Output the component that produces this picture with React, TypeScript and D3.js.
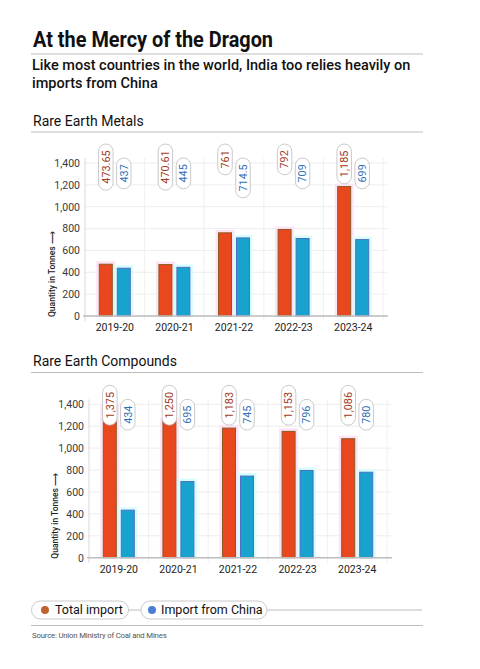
import React from "react";
import * as d3 from "d3";

const categories = ["2019-20", "2020-21", "2021-22", "2022-23", "2023-24"];
const metalsTotal = [473.65, 470.61, 761, 792, 1185];
const metalsChina = [437, 445, 714.5, 709, 699];
const compoundsTotal = [1375, 1250, 1183, 1153, 1086];
const compoundsChina = [434, 695, 745, 796, 780];
const yTicks = [0, 200, 400, 600, 800, 1000, 1200, 1400];
const seriesNames = ["Total import", "Import from China"];

const RED = "#e9481f";
const RED_STROKE = "#8c5a22";
const BLUE = "#17a3cd";
const BLUE_STROKE = "#4f6ec4";
const RED_TEXT = "#a23a1c";
const BLUE_TEXT = "#2f70b8";
const FONT = "Roboto, 'Noto Sans', sans-serif";
const fmt = d3.format(",");

function textLen(s: string, fs: number) {
  let w = 0;
  for (const c of s) w += c === "," || c === "." ? fs * 0.26 : fs * 0.58;
  return w;
}

type ChartProps = {
  total: number[];
  china: number[];
  x0: number;
  x1: number;
  y0: number;
  y1: number;
  axisTitleX: number;
};

function Chart({ total, china, x0, x1, y0, y1, axisTitleX }: ChartProps) {
  const x = d3.scaleBand<string>().domain(categories).range([x0, x1]);
  const y = d3.scaleLinear().domain([0, 1400]).range([y0, y1]);
  const bw = 13;
  const gap = 5;
  const pillW = 14.5;
  const fs = 10.8;
  const redPillTop = y1 - 19;
  const bluePillTop = y1 - 5;
  const bars: React.ReactNode[] = [];
  const pills: React.ReactNode[] = [];
  categories.forEach((c, i) => {
    const cx = (x(c) as number) + x.bandwidth() / 2;
    const series = [
      { v: total[i], bx: cx - gap / 2 - bw, fill: RED, stroke: RED_STROKE, halo: "#fde3f6", txt: RED_TEXT, top: redPillTop },
      { v: china[i], bx: cx + gap / 2, fill: BLUE, stroke: BLUE_STROKE, halo: "#d9fdfd", txt: BLUE_TEXT, top: bluePillTop },
    ];
    series.forEach((s, j) => {
      bars.push(
        <g key={`b${i}-${j}`}>
          <rect x={s.bx - 3} y={y(s.v) - 3} width={bw + 6} height={y0 - y(s.v) + 3} fill={s.halo} />
          <rect x={s.bx} y={y(s.v)} width={bw} height={y0 - y(s.v)} fill={s.fill} stroke={s.stroke} strokeWidth={1} />
        </g>
      );
      const label = fmt(s.v);
      const h = textLen(label, fs) + 12;
      const px = s.bx + bw / 2;
      pills.push(
        <g key={`p${i}-${j}`}>
          <rect x={px - pillW / 2} y={s.top} width={pillW} height={h} rx={pillW / 2} fill="#fff" stroke="#bdbdbd" strokeWidth={0.8} />
          <text
            transform={`translate(${px + fs * 0.36},${s.top + h / 2}) rotate(-90)`}
            textAnchor="middle"
            fontSize={fs}
            fill={s.txt}
            fontFamily={FONT}
          >
            {label}
          </text>
        </g>
      );
    });
  });
  const dividers = d3.range(categories.length + 1).map((i) => x0 + i * x.bandwidth());
  return (
    <g>
      {yTicks.map((t) => (
        <line key={`g${t}`} x1={x0} x2={x1 + 4} y1={y(t)} y2={y(t)} stroke="#e8e8e8" strokeWidth={0.8} />
      ))}
      {dividers.map((d, i) => (
        <line key={`d${i}`} x1={d} x2={d} y1={y1 - 5} y2={y0 + 5} stroke={i === 0 ? "#cfcfcf" : "#ececec"} strokeWidth={0.8} />
      ))}
      {yTicks.map((t) => (
        <text key={`t${t}`} x={x0 - 5} y={y(t) + 3.8} textAnchor="end" fontSize={10.5} fill="#3a3a3a" fontFamily={FONT}>
          {fmt(t)}
        </text>
      ))}
      {bars}
      <line x1={x0 - 2} x2={x1 + 5} y1={y0} y2={y0} stroke="#bdbdbd" strokeWidth={1.6} />
      {pills}
      {categories.map((c) => (
        <text key={`x${c}`} x={(x(c) as number) + x.bandwidth() / 2} y={y0 + 15} textAnchor="middle" fontSize={10.5} fill="#222" fontFamily={FONT}>
          {c}
        </text>
      ))}
      <text transform={`translate(${axisTitleX},${y0 + 1}) rotate(-90)`} fontSize={8.5} fontWeight={500} fill="#222" fontFamily={FONT}>
        Quantity in Tonnes{"  "}⟶
      </text>
    </g>
  );
}

export default function App() {
  return (
    <svg width={480} height={669} style={{ position: "absolute", left: 0, top: 0, background: "#fff" }}>
      <rect width={480} height={669} fill="#fff" />
      <text x={33} y={47} fontSize={22} fontWeight={700} fill="#111" fontFamily={FONT} textLength={240} lengthAdjust="spacingAndGlyphs">
        At the Mercy of the Dragon
      </text>
      <line x1={31} x2={423} y1={54} y2={54} stroke="#bdbdbd" strokeWidth={1} />
      <text x={32} y={70} fontSize={14.5} fontWeight={500} fill="#111" fontFamily={FONT}>
        Like most countries in the world, India too relies heavily on
      </text>
      <text x={32} y={88} fontSize={14.5} fontWeight={500} fill="#111" fontFamily={FONT}>
        imports from China
      </text>
      <text x={33} y={126} fontSize={14} fill="#111" fontFamily={FONT}>
        Rare Earth Metals
      </text>
      <line x1={31} x2={423} y1={132} y2={132} stroke="#bdbdbd" strokeWidth={1} />
      <Chart total={metalsTotal} china={metalsChina} x0={85} x1={383} y0={316} y1={163} axisTitleX={55} />
      <text x={33} y={366} fontSize={14} fill="#111" fontFamily={FONT}>
        Rare Earth Compounds
      </text>
      <line x1={31} x2={423} y1={372.5} y2={372.5} stroke="#bdbdbd" strokeWidth={1} />
      <Chart total={compoundsTotal} china={compoundsChina} x0={89} x1={387} y0={557.7} y1={404.3} axisTitleX={58} />
      {/* legend */}
      <line x1={128} x2={141} y1={610} y2={610} stroke="#bdbdbd" strokeWidth={1} />
      <line x1={267} x2={422} y1={610} y2={610} stroke="#bdbdbd" strokeWidth={1} />
      <rect x={31.5} y={601} width={97} height={18} rx={9} fill="#fff" stroke="#c4c4c4" strokeWidth={0.9} />
      <circle cx={45} cy={610} r={4} fill="#c0642e" />
      <text x={55} y={614.3} fontSize={12.5} fill="#111" fontFamily={FONT}>
        {seriesNames[0]}
      </text>
      <rect x={141} y={601} width={126} height={18} rx={9} fill="#fff" stroke="#c4c4c4" strokeWidth={0.9} />
      <circle cx={152} cy={610} r={4} fill="#4a7dd3" />
      <text x={161} y={614.3} fontSize={12.5} fill="#111" fontFamily={FONT}>
        {seriesNames[1]}
      </text>
      <line x1={31} x2={423} y1={625.5} y2={625.5} stroke="#bdbdbd" strokeWidth={1} />
      <text x={32} y={638} fontSize={7.8} fill="#555" fontFamily={FONT} letterSpacing={-0.2}>
        Source: Union Ministry of Coal and Mines
      </text>
    </svg>
  );
}
